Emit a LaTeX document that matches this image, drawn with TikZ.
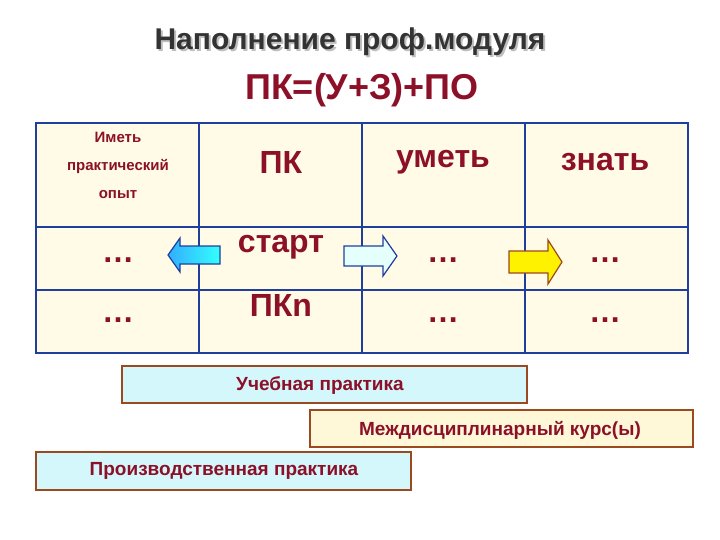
\documentclass[tikz,border=0pt]{standalone}
\usepackage{fontspec}
\setmainfont{Liberation Sans}
\definecolor{dred}{HTML}{8B1028}
\definecolor{tblue}{HTML}{1F3F9F}
\definecolor{cellbg}{HTML}{FFFBE6}
\definecolor{brownb}{HTML}{9A4A1E}
\definecolor{cyanbg}{HTML}{D4F7FB}
\definecolor{yelbg}{HTML}{FFF8D8}
\tikzset{x=1pt,y=-1pt,
  lbl/.style={text=dred,font=\bfseries},
  big/.style={lbl,font=\fontsize{32}{34}\selectfont\bfseries},
  bartext/.style={text=dred,font=\fontsize{19}{21}\selectfont\bfseries},
  barbox/.style={draw=brownb,line width=2.5pt},
  arrowshape/.style={draw=tblue,line width=1.2pt,line join=miter}}
\begin{document}
\begin{tikzpicture}
\useasboundingbox (0,0) rectangle (720,540);
\node (shadow) [font=\fontsize{30}{32}\selectfont\bfseries,text=gray!50] at (352,44) {Наполнение проф.модуля};
\node (title) [font=\fontsize{30}{32}\selectfont\bfseries,text=black!80] at (350,42) {Наполнение проф.модуля};
\node (formula) [font=\fontsize{36}{38}\selectfont\bfseries,text=dred] at (362,90) {ПК=(У+З)+ПО};
\fill[cellbg] (36,123) rectangle (688,353);
\draw[tblue,line width=2pt] (36,123) rectangle (688,353)
  (36,227) -- (688,227) (36,290) -- (688,290)
  (199,123) -- (199,353) (362,123) -- (362,353) (525,123) -- (525,353);
\node (a1) [lbl,font=\fontsize{15}{28}\selectfont\bfseries,align=center] at (118,165) {Иметь\\практический\\опыт};
\node (pk) [big] at (281,162) {ПК};
\node (um) [big] at (443,162) {уметь};
\node (zn) [big] at (605,162) {знать};
\node (d1) [big] at (118,260) {\dots};
\node (st) [big] at (281,247) {старт};
\node (d2) [big] at (443,260) {\dots};
\node (d3) [big] at (605,260) {\dots};
\node (d4) [big] at (118,320) {\dots};
\node (pkn) [big] at (281,305) {ПКn};
\node (d5) [big] at (443,320) {\dots};
\node (d6) [big] at (605,320) {\dots};
% arrows
\draw[arrowshape,left color=cyan!60!blue!80,right color=cyan!80]
  (220,246) -- (180,246) -- (180,238) -- (168,255) -- (180,272) -- (180,264) -- (220,264) -- cycle;
\draw[arrowshape,fill=green!12!cyan!10]
  (344,246) -- (383,246) -- (383,236) -- (397,256) -- (383,276) -- (383,266) -- (344,266) -- cycle;
\draw[arrowshape,draw=brownb,fill=yellow]
  (509,251) -- (548,251) -- (548,240) -- (562,262) -- (548,284) -- (548,273) -- (509,273) -- cycle;
% bars
\draw[barbox,fill=cyanbg] (122,366) rectangle (527,403);
\node (ub) [bartext] at (320,386) {Учебная практика};
\draw[barbox,fill=yelbg] (310,410) rectangle (693,447);
\node (md) [bartext] at (500,430) {Междисциплинарный курс(ы)};
\draw[barbox,fill=cyanbg] (36,452) rectangle (411,490);
\node (pr) [bartext] at (224,471) {Производственная практика};
\end{tikzpicture}
\end{document}
